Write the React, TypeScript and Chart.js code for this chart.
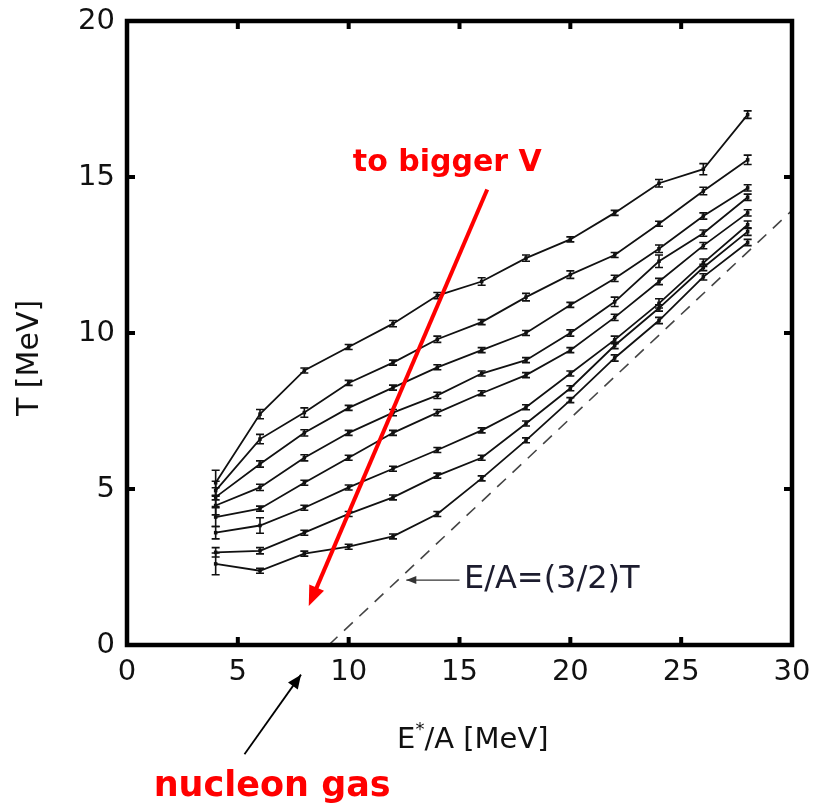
import React, { useEffect, useRef } from "react";
import { Chart, registerables } from "chart.js";

Chart.register(...registerables);

// ---- data ----
const energies = [4, 6, 8, 10, 12, 14, 16, 18, 20, 22, 24, 26, 28];

const curveA = [5.2, 7.4, 8.8, 9.55, 10.3, 11.2, 11.65, 12.4, 13.0, 13.85, 14.8, 15.25, 17.0];
const curveB = [4.95, 6.6, 7.45, 8.4, 9.05, 9.8, 10.35, 11.15, 11.87, 12.5, 13.5, 14.55, 15.55];
const curveC = [4.74, 5.8, 6.8, 7.6, 8.25, 8.9, 9.45, 10.0, 10.9, 11.75, 12.7, 13.75, 14.65];
const curveD = [4.47, 5.05, 6.0, 6.8, 7.45, 8.0, 8.7, 9.13, 10.0, 11.0, 12.3, 13.2, 14.35];
const curveE = [4.1, 4.37, 5.2, 6.0, 6.8, 7.45, 8.07, 8.65, 9.45, 10.5, 11.65, 12.8, 13.85];
const curveF = [3.6, 3.83, 4.4, 5.05, 5.65, 6.25, 6.88, 7.62, 8.7, 9.78, 10.95, 12.25, 13.47];
const curveG = [2.97, 3.02, 3.6, 4.2, 4.73, 5.43, 6.0, 7.1, 8.23, 9.6, 10.8, 12.1, 13.25];
const curveH = [2.6, 2.38, 2.93, 3.15, 3.48, 4.2, 5.34, 6.56, 7.85, 9.2, 10.4, 11.8, 12.9];

const errA = [0.4, 0.15, 0.08, 0.08, 0.1, 0.1, 0.12, 0.1, 0.08, 0.08, 0.12, 0.18, 0.12];
const errB = [0.3, 0.15, 0.15, 0.08, 0.08, 0.1, 0.08, 0.12, 0.12, 0.08, 0.08, 0.12, 0.15];
const errC = [0.3, 0.1, 0.1, 0.08, 0.08, 0.08, 0.08, 0.08, 0.08, 0.1, 0.12, 0.1, 0.1];
const errD = [0.3, 0.1, 0.1, 0.08, 0.1, 0.1, 0.08, 0.08, 0.1, 0.15, 0.2, 0.1, 0.1];
const errE = [0.3, 0.08, 0.08, 0.08, 0.08, 0.1, 0.08, 0.08, 0.08, 0.1, 0.1, 0.1, 0.1];
const errF = [0.2, 0.25, 0.08, 0.08, 0.08, 0.08, 0.08, 0.08, 0.08, 0.12, 0.15, 0.12, 0.12];
const errG = [0.15, 0.1, 0.08, 0.08, 0.08, 0.08, 0.08, 0.08, 0.08, 0.1, 0.1, 0.1, 0.12];
const errH = [0.35, 0.08, 0.08, 0.08, 0.08, 0.08, 0.08, 0.08, 0.08, 0.1, 0.1, 0.1, 0.1];

const curves = [curveA, curveB, curveC, curveD, curveE, curveF, curveG, curveH];
const errors = [errA, errB, errC, errD, errE, errF, errG, errH];

// E/A = (3/2)T reference line (dashed)
const gasLineX = [9.1, 30];
const gasLineY = [0, 13.93];

const xTickValues = [0, 5, 10, 15, 20, 25, 30];
const yTickValues = [0, 5, 10, 15, 20];
const xInnerTicks = [5, 10, 15, 20, 25];
const yInnerTicks = [5, 10, 15];

// annotations (data coordinates)
const redArrowFrom = { x: 16.25, y: 14.6 };
const redArrowTo = { x: 8.2, y: 1.25 };
const redLabel = { text: "to bigger V", x: 14.45, y: 15.45 };
const gasArrowFrom = { x: 5.3, y: -3.5 };
const gasArrowTo = { x: 7.85, y: -0.95 };
const gasLabel = { text: "nucleon gas", x: 6.55, y: -4.55 };
const eqArrowFrom = { x: 15.0, y: 2.08 };
const eqArrowTo = { x: 12.6, y: 2.08 };
const eqLabel = { text: "E/A=(3/2)T", x: 15.2, y: 2.08 };
const xTitleCenter = 15.6;
const yTitleCenter = 9.2;

const FONT = "'DejaVu Sans', 'Liberation Sans', Arial, sans-serif";

const errorBarPlugin = {
  id: "errorBars",
  afterDatasetsDraw(chart: any) {
    const { ctx, scales } = chart;
    const xs = scales.x;
    const ys = scales.y;
    ctx.save();
    ctx.strokeStyle = "#111";
    ctx.lineWidth = 1.6;
    curves.forEach((c, ci) => {
      const err = errors[ci];
      c.forEach((v, i) => {
        const px = xs.getPixelForValue(energies[i]);
        const top = ys.getPixelForValue(v + err[i]);
        const bot = ys.getPixelForValue(v - err[i]);
        ctx.beginPath();
        ctx.moveTo(px, top);
        ctx.lineTo(px, bot);
        ctx.moveTo(px - 4, top);
        ctx.lineTo(px + 4, top);
        ctx.moveTo(px - 4, bot);
        ctx.lineTo(px + 4, bot);
        ctx.stroke();
      });
    });
    ctx.restore();
  },
};

function arrowHead(ctx: any, fx: number, fy: number, tx: number, ty: number, len: number, half: number) {
  const ang = Math.atan2(ty - fy, tx - fx);
  const bx = tx - len * Math.cos(ang);
  const by = ty - len * Math.sin(ang);
  const nx = -Math.sin(ang) * half;
  const ny = Math.cos(ang) * half;
  ctx.beginPath();
  ctx.moveTo(tx, ty);
  ctx.lineTo(bx + nx, by + ny);
  ctx.lineTo(bx - nx, by - ny);
  ctx.closePath();
  ctx.fill();
}

const framePlugin = {
  id: "frameAndNotes",
  afterDraw(chart: any) {
    const { ctx, chartArea, scales } = chart;
    const xs = scales.x;
    const ys = scales.y;
    const { left, right, top, bottom } = chartArea;
    ctx.save();
    // inward ticks
    ctx.fillStyle = "#000";
    const tl = 8;
    const tw = 4;
    xInnerTicks.forEach((v) => {
      const px = xs.getPixelForValue(v);
      ctx.fillRect(px - tw / 2, bottom - tl, tw, tl);
      ctx.fillRect(px - tw / 2, top, tw, tl);
    });
    yInnerTicks.forEach((v) => {
      const py = ys.getPixelForValue(v);
      ctx.fillRect(left, py - tw / 2, tl, tw);
      ctx.fillRect(right - tl, py - tw / 2, tl, tw);
    });
    // frame
    ctx.strokeStyle = "#000";
    ctx.lineWidth = 4.5;
    ctx.strokeRect(left, top, right - left, bottom - top);

    const P = (p: { x: number; y: number }) => [xs.getPixelForValue(p.x), ys.getPixelForValue(p.y)];

    // red arrow
    const [rfx, rfy] = P(redArrowFrom);
    const [rtx, rty] = P(redArrowTo);
    ctx.strokeStyle = "#ff0000";
    ctx.fillStyle = "#ff0000";
    ctx.lineWidth = 4;
    const ang = Math.atan2(rty - rfy, rtx - rfx);
    ctx.beginPath();
    ctx.moveTo(rfx, rfy);
    ctx.lineTo(rtx - 14 * Math.cos(ang), rty - 14 * Math.sin(ang));
    ctx.stroke();
    arrowHead(ctx, rfx, rfy, rtx, rty, 20, 8);

    // red labels
    ctx.textAlign = "center";
    ctx.textBaseline = "middle";
    ctx.font = `bold 30px ${FONT}`;
    const [rlx, rly] = P(redLabel);
    ctx.fillText(redLabel.text, rlx, rly);
    ctx.font = `bold 35px ${FONT}`;
    const [glx, gly] = P(gasLabel);
    ctx.fillText(gasLabel.text, glx, gly);

    // black arrow to nucleon gas line
    const [gfx, gfy] = P(gasArrowFrom);
    const [gtx, gty] = P(gasArrowTo);
    ctx.strokeStyle = "#000";
    ctx.fillStyle = "#000";
    ctx.lineWidth = 1.8;
    ctx.beginPath();
    ctx.moveTo(gfx, gfy);
    ctx.lineTo(gtx, gty);
    ctx.stroke();
    arrowHead(ctx, gfx, gfy, gtx, gty, 14, 6);

    // E/A label arrow
    const [efx, efy] = P(eqArrowFrom);
    const [etx, ety] = P(eqArrowTo);
    ctx.strokeStyle = "#333";
    ctx.lineWidth = 1.4;
    ctx.beginPath();
    ctx.moveTo(efx, efy);
    ctx.lineTo(etx, ety);
    ctx.stroke();
    ctx.fillStyle = "#333";
    arrowHead(ctx, efx, efy, etx, ety, 10, 4);

    ctx.fillStyle = "#1c1c2e";
    ctx.font = `32px ${FONT}`;
    ctx.textAlign = "left";
    const [elx, ely] = P(eqLabel);
    ctx.fillText(eqLabel.text, elx, ely);

    // axis titles
    ctx.fillStyle = "#111";
    const cx = xs.getPixelForValue(xTitleCenter);
    const part1 = "E";
    const part2 = "/A [MeV]";
    ctx.font = `29px ${FONT}`;
    const w1 = ctx.measureText(part1).width;
    const w2 = ctx.measureText(part2).width;
    ctx.font = `18px ${FONT}`;
    const ws = ctx.measureText("*").width;
    const total = w1 + ws + w2;
    const startX = cx - total / 2;
    const ty2 = 740;
    ctx.textAlign = "left";
    ctx.font = `29px ${FONT}`;
    ctx.fillText(part1, startX, ty2);
    ctx.font = `18px ${FONT}`;
    ctx.fillText("*", startX + w1, ty2 - 10);
    ctx.font = `29px ${FONT}`;
    ctx.fillText(part2, startX + w1 + ws, ty2);

    // T [MeV]
    ctx.save();
    ctx.translate(30, ys.getPixelForValue(yTitleCenter));
    ctx.rotate(-Math.PI / 2);
    ctx.textAlign = "center";
    ctx.font = `30px ${FONT}`;
    ctx.fillText("T [MeV]", 0, 0);
    ctx.restore();

    ctx.restore();
  },
};

function zeroPadding(s: any) {
  s.paddingTop = 0;
  s.paddingBottom = 0;
  s.paddingLeft = 0;
  s.paddingRight = 0;
}

export default function App() {
  const ref = useRef<HTMLCanvasElement | null>(null);

  useEffect(() => {
    if (!ref.current) return;
    const datasets: any[] = curves.map((c, ci) => ({
      label: "curve" + ci,
      data: c.map((v, i) => ({ x: energies[i], y: v })),
      borderColor: "#111",
      backgroundColor: "#111",
      borderWidth: 1.8,
      pointStyle: "rect",
      pointRadius: 2.5,
      pointBorderWidth: 0,
      showLine: true,
      tension: 0,
    }));
    datasets.push({
      label: "gas",
      data: gasLineX.map((x, i) => ({ x, y: gasLineY[i] })),
      borderColor: "#444",
      borderWidth: 1.6,
      borderDash: [12, 9],
      pointRadius: 0,
      showLine: true,
    });

    const chart = new Chart(ref.current, {
      type: "scatter",
      data: { datasets },
      options: {
        animation: false,
        responsive: false,
        maintainAspectRatio: false,
        layout: { padding: { left: 0, right: 23, top: 21, bottom: 0 } },
        plugins: { legend: { display: false }, tooltip: { enabled: false } },
        scales: {
          x: {
            type: "linear",
            min: 0,
            max: 30,
            grid: { display: false, drawTicks: false },
            border: { display: false },
            afterBuildTicks: (s: any) => {
              s.ticks = xTickValues.map((v) => ({ value: v }));
            },
            afterFit: (s: any) => {
              s.height = 159;
              zeroPadding(s);
            },
            ticks: {
              color: "#111",
              font: { family: FONT, size: 29 },
              padding: 10,
              maxRotation: 0,
              autoSkip: false,
            },
          },
          y: {
            type: "linear",
            min: 0,
            max: 20,
            grid: { display: false, drawTicks: false },
            border: { display: false },
            afterBuildTicks: (s: any) => {
              s.ticks = yTickValues.map((v) => ({ value: v }));
            },
            afterFit: (s: any) => {
              s.width = 127;
              zeroPadding(s);
            },
            ticks: {
              color: "#111",
              font: { family: FONT, size: 29 },
              padding: 12,
              autoSkip: false,
            },
          },
        },
      },
      plugins: [errorBarPlugin, framePlugin],
    });
    return () => chart.destroy();
  }, []);

  return (
    <div style={{ position: "fixed", left: 0, top: 0, width: 815, height: 804, background: "#fff" }}>
      <canvas ref={ref} width={815} height={804} style={{ width: 815, height: 804, display: "block" }} />
    </div>
  );
}
